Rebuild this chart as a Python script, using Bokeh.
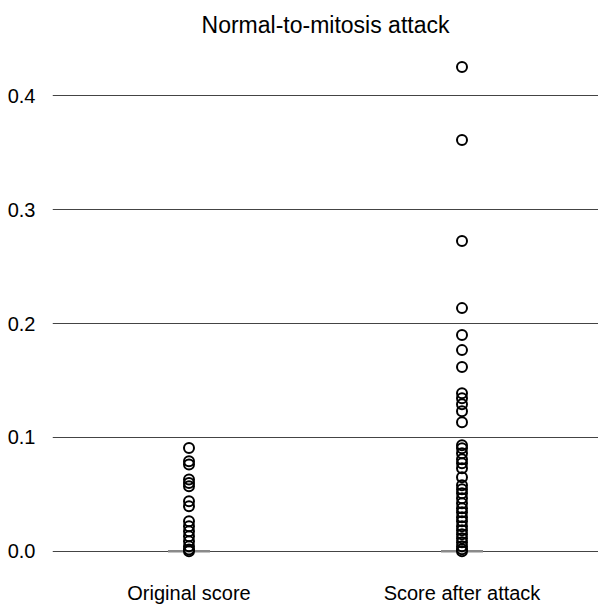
from bokeh.plotting import figure
from bokeh.models import FixedTicker, Range1d
from bokeh.embed import file_html
from bokeh.resources import INLINE

categories = ["Original score", "Score after attack"]
cat_pos = [1, 2]

# box statistics (all collapse to zero)
medians = [0.0, 0.0]

original_outliers = [0.0908, 0.0791, 0.0762, 0.0630, 0.0600, 0.0571, 0.0440, 0.0396,
                     0.0264, 0.0220, 0.0176, 0.0132, 0.0088, 0.0044, 0.0015, 0.0]
attack_outliers = [0.4255, 0.3613, 0.2725, 0.2136, 0.1899, 0.1767, 0.1618, 0.1389,
                   0.1345, 0.1292, 0.1231, 0.1134, 0.0932, 0.0905, 0.0862, 0.0809,
                   0.0774, 0.0730, 0.0651, 0.0580, 0.0545, 0.0510, 0.0466, 0.0422,
                   0.0378, 0.0343, 0.0299, 0.0264, 0.0220, 0.0185, 0.0149, 0.0114,
                   0.0079, 0.0044, 0.0018, 0.0]

y_ticks = [0.0, 0.1, 0.2, 0.3, 0.4]

p = figure(width=598, height=606, output_backend="svg", toolbar_location=None,
           title="Normal-to-mitosis attack",
           x_range=Range1d(0.5, 2.5), y_range=Range1d(-0.0125, 0.4443),
           min_border_left=52, min_border_right=0, min_border_top=45, min_border_bottom=0)

p.title.text_font = "Liberation Sans"
p.title.text_font_size = "23px"
p.title.text_font_style = "normal"
p.title.align = "center"
p.title.text_color = "#000000"
p.title.standoff = 15

p.outline_line_color = None
p.xgrid.grid_line_color = None
p.ygrid.grid_line_color = "#444444"
p.ygrid.grid_line_width = 1
p.ygrid.ticker = FixedTicker(ticks=y_ticks)

p.yaxis.ticker = FixedTicker(ticks=y_ticks)
p.yaxis.axis_line_color = None
p.yaxis.major_tick_line_color = None
p.yaxis.minor_tick_line_color = None
p.yaxis.major_label_text_font = "Liberation Sans"
p.yaxis.major_label_text_font_size = "20px"
p.yaxis.major_label_text_color = "#000000"
p.yaxis.major_label_standoff = 11
p.yaxis.major_label_overrides = {t: f"{t:.1f}" for t in y_ticks}

p.xaxis.ticker = FixedTicker(ticks=cat_pos)
p.xaxis.major_label_overrides = {pos: c for pos, c in zip(cat_pos, categories)}
p.xaxis.axis_line_color = None
p.xaxis.major_tick_line_color = None
p.xaxis.minor_tick_line_color = None
p.xaxis.major_label_text_font = "Liberation Sans"
p.xaxis.major_label_text_font_size = "20px"
p.xaxis.major_label_text_color = "#000000"
p.xaxis.major_label_standoff = 10

half = 0.077
p.segment(x0=[c - half for c in cat_pos], x1=[c + half for c in cat_pos],
          y0=medians, y1=medians, line_color="#8a8a8a", line_width=2.5)

p.scatter(x=[cat_pos[0]] * len(original_outliers), y=original_outliers, size=10,
          marker="circle", line_color="black", line_width=2, fill_alpha=0)
p.scatter(x=[cat_pos[1]] * len(attack_outliers), y=attack_outliers, size=10,
          marker="circle", line_color="black", line_width=2, fill_alpha=0)

open("out.html", "w").write(file_html(p, INLINE))
